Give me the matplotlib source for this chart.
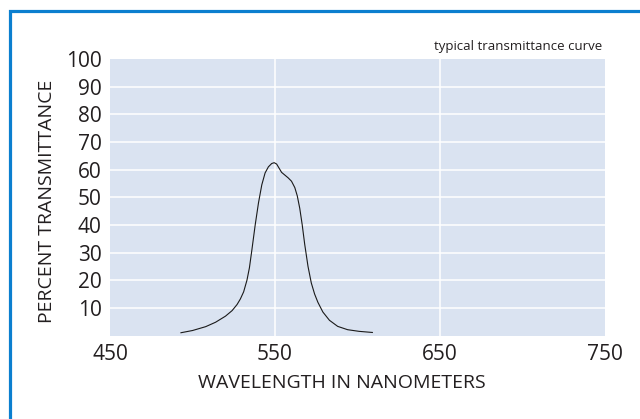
import matplotlib
matplotlib.use('Agg')
import matplotlib.pyplot as plt
from matplotlib.patches import Rectangle

plt.rcParams['font.family'] = ['Open Sans', 'DejaVu Sans']

# transmittance curve
wavelength = [493, 500, 508, 514, 520, 524, 527, 529, 531, 533, 534.5, 536, 538, 540,
              542, 544, 546, 548, 549.5, 551, 552.5, 554, 556, 558, 560, 562, 563.5,
              565, 566.5, 568, 570, 572, 574, 576, 579, 583, 588, 594, 601, 609]
transmittance = [1.0, 1.8, 3.2, 4.8, 7.0, 9.0, 11.2, 13.2, 15.8, 20, 24.5, 31, 40, 48,
                 54.5, 58.8, 61.0, 62.2, 62.5, 62.0, 60.5, 59.0, 58.0, 57.0, 55.8, 53.5,
                 50.5, 46, 40, 33, 25, 19, 15, 12, 8.5, 5.5, 3.3, 2.1, 1.5, 1.1]

x_ticks = [450, 550, 650, 750]
y_ticks = [10, 20, 30, 40, 50, 60, 70, 80, 90, 100]

W, H = 640, 419
fig = plt.figure(figsize=(W / 100, H / 100), dpi=100)

# blue frame, right and bottom edges run off the picture
fig.patches.append(Rectangle((10 / W, -0.5), 2.0, 0.5 + (H - 11) / H,
                             transform=fig.transFigure, fill=False,
                             edgecolor='#0b7fcf', linewidth=2.3))

ax = fig.add_axes([110 / W, (H - 335.5) / H, 495 / W, 276.5 / H])
ax.set_facecolor('#dae3f1')
for s in ax.spines.values():
    s.set_visible(False)

ax.plot(wavelength, transmittance, color='#1a1a1a', linewidth=0.8, zorder=3)

ax.set_xlim(450, 750)
ax.set_ylim(0, 100)
ax.set_xticks(x_ticks)
ax.set_yticks(y_ticks)
ax.tick_params(length=0, labelsize=15, colors='#231f20', pad=6)

for v in x_ticks[1:-1]:
    ax.axvline(v, color='white', linewidth=1.1, zorder=1)
for v in y_ticks[:-1]:
    ax.axhline(v, color='white', linewidth=1.1, zorder=1)

ax.set_xlabel('WAVELENGTH IN NANOMETERS', fontsize=14, color='#231f20', va='center')
ax.xaxis.set_label_coords((342 - 110) / 495, (335.5 - 383) / 276.5)
ax.set_ylabel('PERCENT TRANSMITTANCE', fontsize=14, color='#231f20', va='center')
ax.yaxis.set_label_coords((47 - 110) / 495, (335.5 - 201) / 276.5)

ax.text((602 - 110) / 495, (335.5 - 50) / 276.5, 'typical transmittance curve',
        transform=ax.transAxes, ha='right', va='baseline', fontsize=9.5, color='#231f20')

fig.savefig('out.png', dpi=100)
